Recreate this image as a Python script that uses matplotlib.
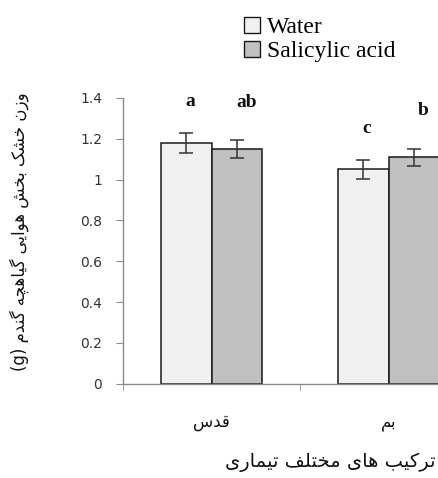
import matplotlib
matplotlib.use("Agg")
import matplotlib.pyplot as plt
import numpy as np

# ---- data ----
cultivars = ["قدس", "بم"]
series_names = ["Water", "Salicylic acid"]
water_vals = [1.18, 1.05]
water_err = [0.05, 0.045]
sa_vals = [1.15, 1.11]
sa_err = [0.045, 0.042]
water_letters = ["a", "c"]
sa_letters = ["ab", "b"]
y_ticks = [0, 0.2, 0.4, 0.6, 0.8, 1, 1.2, 1.4]
y_tick_labels = ["0", "0.2", "0.4", "0.6", "0.8", "1", "1.2", "1.4"]
y_label = "وزن خشک بخش هوایی گیاهچه گندم (g)"
x_label = "ترکیب های مختلف تیماری"

# ---- minimal Persian shaping (matplotlib has no complex text layout) ----
FORMS = {
    "ا": (0xFE8D, 0xFE8E, None, None),
    "ب": (0xFE8F, 0xFE90, 0xFE91, 0xFE92),
    "پ": (0xFB56, 0xFB57, 0xFB58, 0xFB59),
    "ت": (0xFE95, 0xFE96, 0xFE97, 0xFE98),
    "ج": (0xFE9D, 0xFE9E, 0xFE9F, 0xFEA0),
    "چ": (0xFB7A, 0xFB7B, 0xFB7C, 0xFB7D),
    "ح": (0xFEA1, 0xFEA2, 0xFEA3, 0xFEA4),
    "خ": (0xFEA5, 0xFEA6, 0xFEA7, 0xFEA8),
    "د": (0xFEA9, 0xFEAA, None, None),
    "ذ": (0xFEAB, 0xFEAC, None, None),
    "ر": (0xFEAD, 0xFEAE, None, None),
    "ز": (0xFEAF, 0xFEB0, None, None),
    "ژ": (0xFB8A, 0xFB8B, None, None),
    "س": (0xFEB1, 0xFEB2, 0xFEB3, 0xFEB4),
    "ش": (0xFEB5, 0xFEB6, 0xFEB7, 0xFEB8),
    "ف": (0xFED1, 0xFED2, 0xFED3, 0xFED4),
    "ق": (0xFED5, 0xFED6, 0xFED7, 0xFED8),
    "ک": (0xFB8E, 0xFB8F, 0xFB90, 0xFB91),
    "گ": (0xFB92, 0xFB93, 0xFB94, 0xFB95),
    "ل": (0xFEDD, 0xFEDE, 0xFEDF, 0xFEE0),
    "م": (0xFEE1, 0xFEE2, 0xFEE3, 0xFEE4),
    "ن": (0xFEE5, 0xFEE6, 0xFEE7, 0xFEE8),
    "و": (0xFEED, 0xFEEE, None, None),
    "ه": (0xFEE9, 0xFEEA, 0xFEEB, 0xFEEC),
    "ی": (0xFBFC, 0xFBFD, 0xFBFE, 0xFBFF),
}


def joins_next(ch):
    return ch in FORMS and FORMS[ch][2] is not None


def shape(text):
    """Pick contextual letter forms and return the string in visual order."""
    out = []
    for i, ch in enumerate(text):
        if ch not in FORMS:
            out.append(ch)
            continue
        prev = text[i - 1] if i > 0 else ""
        nxt = text[i + 1] if i + 1 < len(text) else ""
        from_prev = joins_next(prev)
        to_next = joins_next(ch) and nxt in FORMS
        iso, fin, ini, med = FORMS[ch]
        if from_prev and to_next:
            code = med
        elif from_prev:
            code = fin
        elif to_next:
            code = ini
        else:
            code = iso
        out.append(chr(code))
    s = "".join(out)[::-1]
    return s.translate(str.maketrans("()", ")("))


fa_font = ["DejaVu Sans"]

fig = plt.figure(figsize=(4.38, 4.78), dpi=100)
ax = fig.add_axes([0.281, 0.197, 0.808, 0.598])

x = np.arange(len(cultivars))
w = 0.285
err_style = dict(ecolor="#333333", elinewidth=1.1, capthick=1.1)
bw = ax.bar(x - w / 2, water_vals, w, color="#f0f0f0", edgecolor="#1a1a1a",
            linewidth=1.1, yerr=water_err, capsize=5, error_kw=err_style,
            label=series_names[0], zorder=2)
bs = ax.bar(x + w / 2, sa_vals, w, color="#c0c0c0", edgecolor="#1a1a1a",
            linewidth=1.1, yerr=sa_err, capsize=5, error_kw=err_style,
            label=series_names[1], zorder=2)

letter_font = dict(family="Liberation Serif", fontweight="bold", fontsize=14,
                   color="#111111", ha="center", va="center")
for xi, v, e, t in zip(x - w / 2, water_vals, water_err, water_letters):
    ax.text(xi + 0.02, v + e + 0.155, t, **letter_font)
for xi, v, e, t in zip(x + w / 2, sa_vals, sa_err, sa_letters):
    ax.text(xi + 0.055, v + e + 0.185, t, **letter_font)

ax.set_xlim(-0.5, len(cultivars) - 0.5)
ax.set_ylim(0, 1.4)

for side in ("top", "right"):
    ax.spines[side].set_visible(False)
for side in ("left", "bottom"):
    ax.spines[side].set_color("#8a8a8a")
    ax.spines[side].set_linewidth(1.0)

ax.set_yticks(y_ticks)
ax.set_yticklabels(y_tick_labels, fontsize=10, color="#333333",
                   family="DejaVu Sans")
ax.tick_params(axis="y", direction="out", length=5, color="#8a8a8a", pad=10)

ax.set_xticks(x)
ax.set_xticklabels([shape(c) for c in cultivars], family=fa_font, fontsize=12,
                   color="#111111")
ax.tick_params(axis="x", which="major", length=0, pad=21)
ax.set_xticks(np.arange(len(cultivars) + 1) - 0.5, minor=True)
ax.tick_params(axis="x", which="minor", direction="out", length=4.5,
               color="#8a8a8a")

fig.text(0.045, 0.515, shape(y_label), rotation=90, family=fa_font,
         fontsize=12, ha="center", va="center", color="#111111")
fig.text(0.753, 0.033, shape(x_label), family=fa_font, fontsize=14,
         ha="center", va="center", color="#111111")

leg = fig.legend(handles=[bw, bs], labels=series_names, loc="upper left",
                 bbox_to_anchor=(0.535, 0.985), frameon=False,
                 prop=dict(family="Liberation Serif", size=17),
                 handlelength=0.7, handleheight=0.7, handletextpad=0.3,
                 labelspacing=0.1, borderaxespad=0)
for p in leg.get_patches():
    p.set_linewidth(1.0)

fig.savefig("out.png", dpi=100)
